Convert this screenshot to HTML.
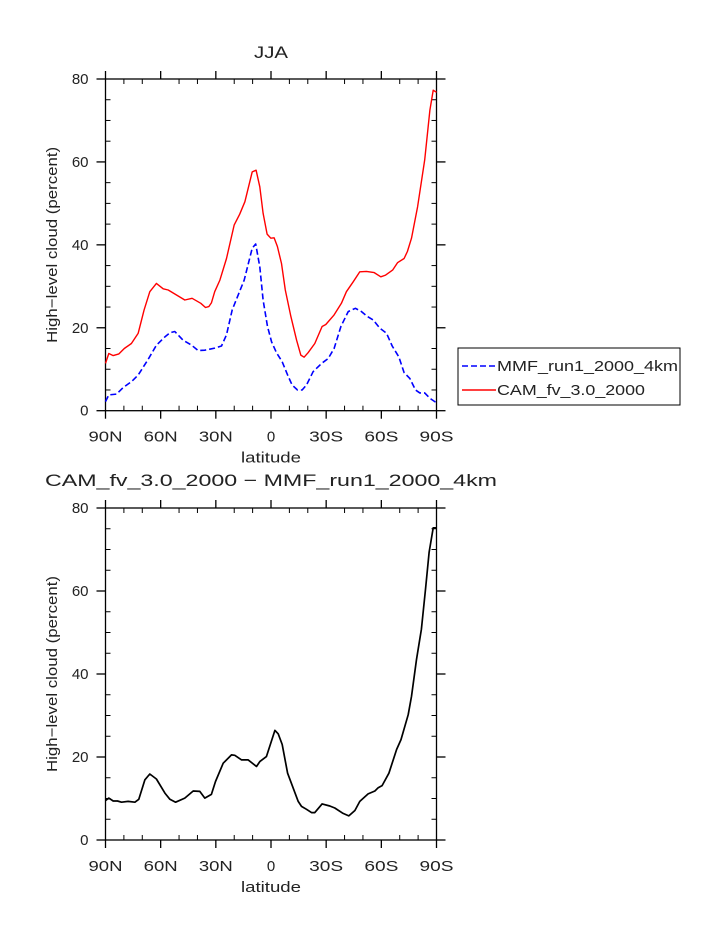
<!DOCTYPE html>
<html><head><meta charset="utf-8">
<style>
html,body{margin:0;padding:0;background:#fff;}
svg{display:block;font-family:"Liberation Sans","DejaVu Sans",sans-serif;}
text{fill:#222;}
</style></head>
<body>
<svg id="chart" width="723" height="935" viewBox="0 0 723 935">
<text x="254" y="58" font-size="17" textLength="34" lengthAdjust="spacingAndGlyphs">JJA</text>
<text x="45" y="486" font-size="17" textLength="452" lengthAdjust="spacingAndGlyphs">CAM_fv_3.0_2000 − MMF_run1_2000_4km</text>
<g>
<rect x="458" y="348" width="222" height="57" fill="#fff" stroke="#000" stroke-width="1"/>
<line x1="462" y1="366" x2="496" y2="366" stroke="#0000ff" stroke-width="1.6" stroke-dasharray="6,3"/>
<text x="497" y="371" font-size="15" textLength="181" lengthAdjust="spacingAndGlyphs">MMF_run1_2000_4km</text>
<line x1="462" y1="390" x2="496" y2="390" stroke="#ff0000" stroke-width="1.6"/>
<text x="497" y="395" font-size="15" textLength="148" lengthAdjust="spacingAndGlyphs">CAM_fv_3.0_2000</text>
</g>
</svg>
<script>
const xTickLabels=["90N","60N","30N","0","30S","60S","90S"];
const xTickLats=[90,60,30,0,-30,-60,-90];
const yTicks=[0,20,40,60,80];
const camLat=[90,88.2,85.8,82.7,79.8,75.9,72.2,69.0,65.9,62.3,58.6,55.9,51.4,46.9,42.9,38.2,35.6,33.8,32.4,30.6,27.8,24.2,20.0,17.0,14.2,10.2,8.1,6.1,4.3,2.1,0.1,-1.7,-3.5,-5.7,-7.8,-10.8,-13.9,-16.2,-18.0,-20.2,-23.8,-27.8,-29.8,-34.3,-38.3,-41.0,-44.7,-48.3,-51.9,-56.1,-59.7,-62.3,-66.1,-68.8,-72.4,-74.2,-76.4,-79.7,-83.6,-86.4,-88.2,-90];
const camVal=[11.4,13.8,13.3,13.7,15.0,16.2,18.7,24.3,28.7,30.7,29.4,29.1,27.9,26.7,27.1,25.9,24.9,25.1,26.0,28.7,31.5,36.7,44.8,47.4,50.4,57.6,58.0,54.0,47.6,42.6,41.6,41.7,39.6,35.5,29.1,22.7,17.0,13.4,12.9,14.0,16.2,20.3,20.8,23.1,25.9,28.7,31.1,33.5,33.6,33.3,32.3,32.7,33.9,35.7,36.7,38.4,41.6,49.2,60.5,72.5,77.3,76.8];
const mmfLat=[90,88.2,84.0,80.4,75.9,72.2,66.8,62.3,57.7,55.0,52.3,47.8,43.2,39.6,36.0,30.6,26.9,24.2,21.1,17.5,14.6,10.2,8.3,6.1,4.3,1.9,-0.3,-3.0,-6.1,-9.0,-11.5,-14.4,-16.9,-19.3,-22.9,-27.5,-31.1,-34.3,-38.0,-42.0,-45.9,-49.2,-52.5,-55.5,-59.2,-62.8,-65.9,-69.5,-72.4,-75.5,-78.6,-80.9,-83.6,-86.4,-90];
const mmfVal=[2.2,3.8,4.0,5.6,7.0,8.6,12.4,15.8,17.8,18.8,19.1,17.0,15.8,14.5,14.6,15.1,15.6,18.3,24.3,28.3,31.5,39.2,40.2,34.7,26.7,20.3,16.6,14.0,11.8,8.6,6.2,5.0,5.0,6.2,9.4,11.4,12.6,15.0,20.3,23.9,24.7,23.9,22.7,21.9,19.9,18.7,15.6,13.0,9.2,7.8,5.0,4.3,4.3,3.0,1.9];
const diffLat=[90,88.2,85.8,83.5,81.3,77.7,74.0,71.9,68.6,65.9,62.3,57.7,55.0,51.9,46.9,42.3,38.7,36.0,32.4,30.2,26.0,21.5,19.7,16.0,12.4,7.9,6.1,2.5,-2.1,-3.9,-6.1,-9.0,-14.8,-16.6,-19.3,-22.0,-23.8,-27.8,-32.0,-34.7,-39.2,-42.3,-45.6,-48.3,-52.8,-56.5,-58.3,-60.4,-64.1,-68.3,-70.7,-74.6,-76.4,-79.1,-81.8,-84.0,-86.0,-88.2,-90];
const diffVal=[9.5,10.1,9.4,9.4,9.1,9.3,9.1,9.8,14.5,15.9,14.7,11.3,9.8,9.1,10.1,11.8,11.7,10.1,11.0,14.1,18.5,20.5,20.4,19.3,19.3,17.7,18.9,20.1,26.4,25.6,23.0,16.1,9.3,8.1,7.4,6.6,6.6,8.7,8.2,7.7,6.4,5.8,7.1,9.3,11.1,11.8,12.6,13.1,16.1,21.8,24.2,30.2,34.6,43.5,50.8,60.4,69.3,75.2,75.2];

const NS="http://www.w3.org/2000/svg";
const svg=document.getElementById('chart');
function mk(tag,attrs,parent){const e=document.createElementNS(NS,tag);for(const k in attrs)e.setAttribute(k,attrs[k]);(parent||svg).appendChild(e);return e;}

function panel(top,bottom,prefix,series){
  const L=105.5,R=436.5;
  const xs=lat=>L+(90-lat)/180*(R-L);
  const ys=v=>bottom-v/80*(bottom-top);
  const g=mk('g',{});
  
  
  const fr=mk('rect',{x:L,y:top,width:R-L,height:bottom-top,fill:'none',stroke:'#000','stroke-width':1.3},g);
  
  
  for(let lat=90;lat>=-90;lat-=10){
    if(lat%30===0)continue;
    const x=xs(lat);
    mk('line',{x1:x,y1:bottom,x2:x,y2:bottom-5,stroke:'#000'},g);
    mk('line',{x1:x,y1:top,x2:x,y2:top+5,stroke:'#000'},g);
  }
  for(let v=5;v<80;v+=5){
    if(v%20===0)continue;
    const y=ys(v);
    mk('line',{x1:L,y1:y,x2:L+5,y2:y,stroke:'#000'},g);
    mk('line',{x1:R,y1:y,x2:R-5,y2:y,stroke:'#000'},g);
  }
  xTickLats.forEach((lat,i)=>{
    const x=xs(lat);
    mk('line',{x1:x,y1:bottom,x2:x,y2:bottom+8,stroke:'#000','stroke-width':1.3},g);
    mk('line',{x1:x,y1:top,x2:x,y2:top-8,stroke:'#000','stroke-width':1.3},g);
    const lab=xTickLabels[i];
    const attrs={x:x,y:bottom+31,'font-size':15,'text-anchor':'middle'};
    if(lab.length>1){attrs.textLength=34;attrs.lengthAdjust='spacingAndGlyphs';}
    const t=mk('text',attrs,g);
    t.textContent=lab;
    
    
  });
  yTicks.forEach(v=>{
    const y=ys(v);
    mk('line',{x1:L,y1:y,x2:L-9,y2:y,stroke:'#000','stroke-width':1.3},g);
    mk('line',{x1:R,y1:y,x2:R+9,y2:y,stroke:'#000','stroke-width':1.3},g);
    const t=mk('text',{x:L-17,y:y+5,'font-size':15,'text-anchor':'end'},g);
    t.textContent=v;
    
    
  });
  const xt=mk('text',{x:(L+R)/2,y:bottom+52,'font-size':15,'text-anchor':'middle',textLength:60,lengthAdjust:'spacingAndGlyphs'},g);
  xt.textContent='latitude';
  
  
  const cy=(top+bottom)/2;
  const yt=mk('text',{x:57,y:cy,'font-size':15,'text-anchor':'middle',textLength:196,lengthAdjust:'spacingAndGlyphs',transform:'rotate(-90 57 '+cy+')'},g);
  yt.textContent='High−level cloud (percent)';
  
  
  series.forEach(s=>{
    const d=s.lat.map((la,i)=>(i?'L':'M')+xs(la).toFixed(1)+' '+ys(s.val[i]).toFixed(1)).join(' ');
    const p=mk('path',{d:d,fill:'none',stroke:s.color,'stroke-width':s.w,'stroke-dasharray':s.dash||'none','stroke-linejoin':'round'},g);
    
    
  });
}
panel(79,410.7,'top',[
  {lat:camLat,val:camVal,color:'#ff0000',w:1.4,name:'cam-line'},
  {lat:mmfLat,val:mmfVal,color:'#0000ff',w:1.6,dash:'6,3',name:'mmf-line'}
]);
panel(508,840,'bottom',[
  {lat:diffLat,val:diffVal,color:'#000',w:1.7,name:'difference-line'}
]);
</script>
</body></html>
